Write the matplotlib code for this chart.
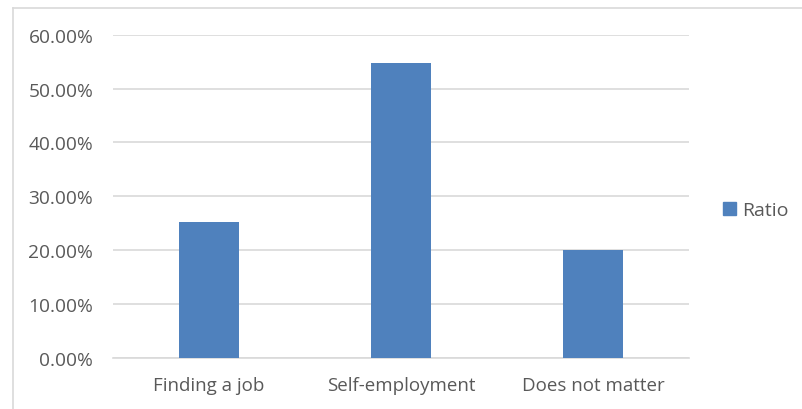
import matplotlib
matplotlib.use('Agg')
import matplotlib.pyplot as plt
from matplotlib.lines import Line2D
from matplotlib.patches import Patch
from matplotlib.ticker import FuncFormatter

categories = ['Finding a job', 'Self-employment', 'Does not matter']
ratio = [25.33, 54.67, 20.00]
yticks = [0, 10, 20, 30, 40, 50, 60]

txtcol = '#595959'
barcol = '#4f81bd'
gridcol = '#d9d9d9'

plt.rcParams['font.family'] = ['Open Sans', 'DejaVu Sans']

W, H = 803, 410
F1 = plt.figure(figsize=(W/100, H/100), dpi=100)
ax = F1.add_axes([112.7/W, 1-359/H, (689-112.7)/W, (359-35.7)/H])

x = range(len(categories))
ax.bar(x, ratio, width=0.31, color=barcol, zorder=3)

ax.set_xlim(-0.5, len(categories)-0.5)
ax.set_ylim(0, 60)
ax.set_yticks(yticks)
ax.yaxis.set_major_formatter(FuncFormatter(lambda v, p: '{0:.2f}%'.format(v)))
ax.set_xticks(list(x))
ax.set_xticklabels(categories)
ax.grid(axis='y', color=gridcol, linewidth=1.2, zorder=0)
for s in ['top', 'right', 'left']:
    ax.spines[s].set_visible(False)
ax.spines['bottom'].set_color(gridcol)
ax.spines['bottom'].set_linewidth(1.2)
ax.tick_params(axis='both', length=0, colors=txtcol)
ax.tick_params(axis='y', pad=14, labelsize=13.8)
ax.tick_params(axis='x', pad=13, labelsize=13.5)

# legend on right
F1.legend(handles=[Patch(color=barcol, label='Ratio')], loc='center left',
          bbox_to_anchor=(706/W, 1-211/H), frameon=False, fontsize=14,
          labelcolor=txtcol, handlelength=0.65, handleheight=0.65, handletextpad=0.3)

# chart area border
F1.add_artist(Line2D([13/W, 13/W], [0, 1-9/H], color=gridcol, linewidth=1.2, transform=F1.transFigure))
F1.add_artist(Line2D([13/W, 1], [1-9/H, 1-9/H], color=gridcol, linewidth=1.2, transform=F1.transFigure))

plt.savefig('out.png', dpi=100)
